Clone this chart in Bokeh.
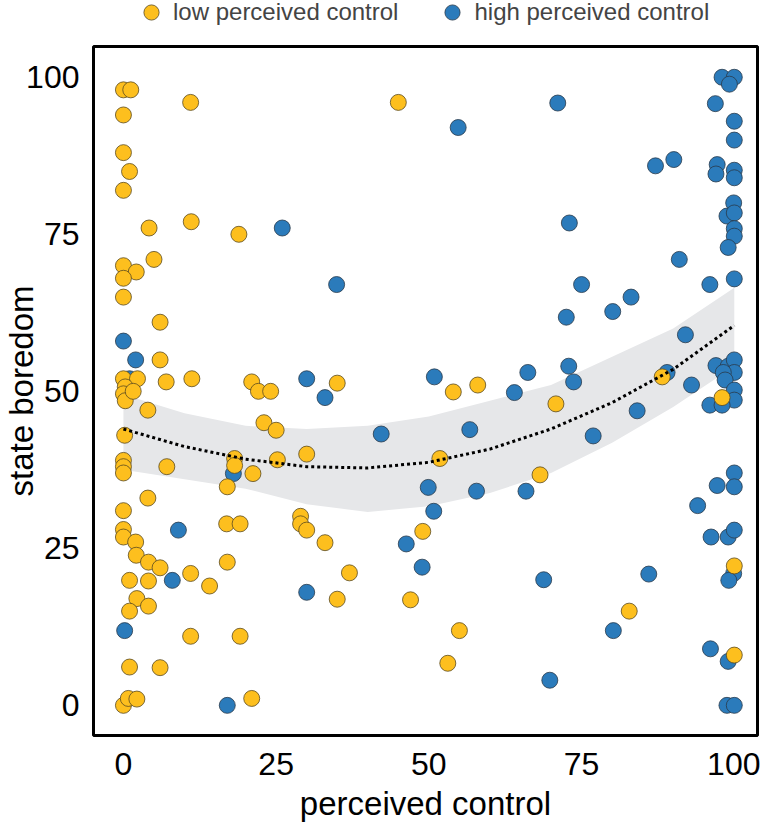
from bokeh.plotting import figure
from bokeh.layouts import column
from bokeh.models import Range1d, FixedTicker, Legend, LegendItem
from bokeh.embed import file_html
from bokeh.resources import INLINE

# ---- data ----
low_x = [0, 1.2, 11, 0, 0, 1, 0, 4.2, 11.1, 18.9, 5, 0, 2.1, 0, 0, 6, 6,
         0, 2.3, 7, 11.2, 21, 22.1, 24.1, 35,
         0.3, 0, 0.3, 1.6, 4, 0.2, 0, 0, 0, 7.1, 23, 25, 18.2, 18.2, 17, 21.2, 25.2, 30,
         4, 0, 0, 0, 2, 16.9, 19.1, 29, 29, 30, 33, 2.1, 4.1, 6, 17, 1, 4.1, 11, 14.1,
         35, 2.2, 4.1, 1, 11, 19.1, 1, 6, 0, 0.8, 2.2, 21,
         45, 54, 58, 51.8, 68.2, 49, 37, 47, 55, 53.1,
         88.2, 98, 70.8, 100, 82.8, 100]
low_y = [98, 98, 96, 94, 88, 85, 82, 76, 77, 75, 71, 70, 69, 68, 65, 61, 55,
         52, 52, 51.5, 52, 51.5, 50, 50, 51.3,
         50.7, 49.6, 48.5, 50, 47, 43, 39, 38, 37, 38, 45, 43.8, 39.3, 38.2, 34.8, 36.9, 39.1, 40,
         33, 31, 28, 26.8, 26, 28.9, 28.9, 30.1, 28.9, 27.9, 25.9, 23.9, 22.8, 21.9, 22.8, 19.9, 19.8, 21, 19,
         16.9, 17, 15.8, 15, 11, 11, 6.1, 6, 0, 1.1, 1, 1.1,
         96, 49.9, 51, 39.3, 36.7, 27.7, 21.1, 16.8, 11.9, 6.7,
         52.3, 49, 48, 22.2, 15, 8]

high_x = [26, 34.9, 0, 2, 1, 30, 33, 18, 9, 8, 30, 0.2, 17,
          54.8, 71.1, 50.9, 66.2, 64, 42.2, 56.7, 49.9, 57.8, 65.9, 50.8, 46.3, 48.9, 68.8, 69.8,
          98, 100, 99.2, 96.9, 100, 100, 87.1, 90.1, 97.2, 97, 100, 100, 99.9, 98.8, 100, 100, 100, 99,
          73, 91, 96, 100, 75, 83.1, 80.1, 72.5, 92, 72.9, 97, 99, 100, 100, 98.2, 89, 73.7, 93,
          98.5, 100, 100, 96, 98, 84.1, 76.9, 100, 100, 97.2, 94, 96.2, 99, 100, 99.9, 99.1, 86,
          80.2, 96.1, 99, 98.8, 100]
high_y = [76, 67, 58, 55, 52, 52, 49, 36.9, 27.9, 19.9, 18, 11.9, 0,
          92, 95.9, 52.3, 53, 49.8, 43.2, 43.9, 34.7, 34.1, 34.1, 30.9, 25.7, 22, 20, 4,
          100, 100, 98.9, 95.8, 93, 90, 85.9, 86.9, 86.1, 84.6, 85.2, 84, 80, 77.9, 78.4, 75.9, 74.7, 72.9,
          76.8, 71, 67, 67.9, 67, 65, 62.7, 61.8, 59, 54, 54.1, 54, 55, 53, 53, 53, 51.5, 51,
          51.8, 50.2, 48.6, 47.8, 47.8, 46.9, 42.9, 37, 34.8, 35, 31.8, 26.8, 26.8, 27.9, 21, 19.9, 20.9,
          11.9, 9, 7, 0, 0]

fit_x = [0, 10, 20, 30, 40, 50, 60, 70, 80, 90, 100]
fit_y = [44, 41.2, 39.2, 38, 37.8, 38.7, 40.8, 44, 48.2, 53.5, 60.5]
fit_lower = [37.5, 36, 34.5, 32, 30.8, 31.7, 33.8, 37, 41.8, 47.5, 54]
fit_upper = [49.5, 46.5, 44.5, 44, 44.5, 46, 48.5, 51, 55.5, 60, 66.5]

x_ticks = [0, 25, 50, 75, 100]
y_ticks = [0, 25, 50, 75, 100]
legend_labels = ["low perceived control", "high perceived control"]
x_title = "perceived control"
y_title = "state boredom"

YELLOW = "#FDBF1E"
BLUE = "#2B7BBB"
FONT = "Liberation Sans"
BLUE_EDGE = "#2a3a4a"
YELLOW_EDGE = "#5a4a20"

# ---- legend strip (separate small figure above the main plot) ----
leg = figure(width=760, height=43, output_backend="svg", toolbar_location=None,
             x_range=Range1d(0, 1), y_range=Range1d(0, 1),
             min_border_left=0, min_border_right=0, min_border_top=0, min_border_bottom=0)
leg.axis.visible = False
leg.grid.visible = False
leg.outline_line_color = None
leg.background_fill_color = "white"
leg.border_fill_color = "white"
# legend-only renderers: their single point lies outside this strip's ranges, so only the legend shows
d_low = leg.scatter(low_x[:1], low_y[:1], size=16, fill_color=YELLOW, line_color=YELLOW_EDGE, line_width=0.8)
d_high = leg.scatter(high_x[:1], high_y[:1], size=16, fill_color=BLUE, line_color=BLUE_EDGE, line_width=0.8)
legend = Legend(items=[LegendItem(label=legend_labels[0], renderers=[d_low], index=0),
                       LegendItem(label=legend_labels[1], renderers=[d_high], index=0)],
                orientation="horizontal", location=(39, 12),
                glyph_width=38, glyph_height=38, label_height=38,
                label_standoff=3, spacing=35, padding=0, margin=0,
                label_text_font=FONT, label_text_font_size="24px",
                border_line_color=None, background_fill_alpha=0)
leg.add_layout(legend, "center")

# ---- main plot ----
p = figure(width=760, height=784, output_backend="svg", toolbar_location=None,
           x_range=Range1d(-4.9, 103.8), y_range=Range1d(-4.8, 104.9),
           min_border_left=93, min_border_right=3, min_border_top=3, min_border_bottom=92)

p.background_fill_color = "white"
p.border_fill_color = "white"
p.outline_line_color = "black"
p.outline_line_width = 3
p.grid.visible = False

# band
p.varea(x=fit_x, y1=fit_lower, y2=fit_upper, fill_color="#E6E7E9", fill_alpha=1.0)

p.scatter(high_x, high_y, size=16, fill_color=BLUE, line_color=BLUE_EDGE, line_width=0.8)
p.scatter(low_x, low_y, size=16, fill_color=YELLOW, line_color=YELLOW_EDGE, line_width=0.8)

p.line(fit_x, fit_y, line_color="black", line_width=3, line_dash="3 3")

for ax in (p.xaxis[0], p.yaxis[0]):
    ax.axis_line_color = None
    ax.major_tick_line_color = None
    ax.minor_tick_line_color = None
    ax.major_tick_out = 0
    ax.major_tick_in = 0
    ax.minor_tick_out = 0
    ax.major_label_text_font = FONT
    ax.major_label_text_font_size = "32px"
    ax.major_label_text_color = "black"
    ax.axis_label_text_font = FONT
    ax.axis_label_text_font_size = "33px"
    ax.axis_label_text_font_style = "normal"
    ax.axis_label_text_color = "black"

p.xaxis.ticker = FixedTicker(ticks=x_ticks)
p.yaxis.ticker = FixedTicker(ticks=y_ticks)
p.xaxis.major_label_standoff = 17
p.yaxis.major_label_standoff = 14

p.xaxis.axis_label = x_title
p.xaxis.axis_label_standoff = 7
p.yaxis.axis_label = y_title
p.yaxis.axis_label_standoff = -17

layout = column(leg, p, spacing=0)

open("out.html", "w").write(file_html(layout, INLINE))
